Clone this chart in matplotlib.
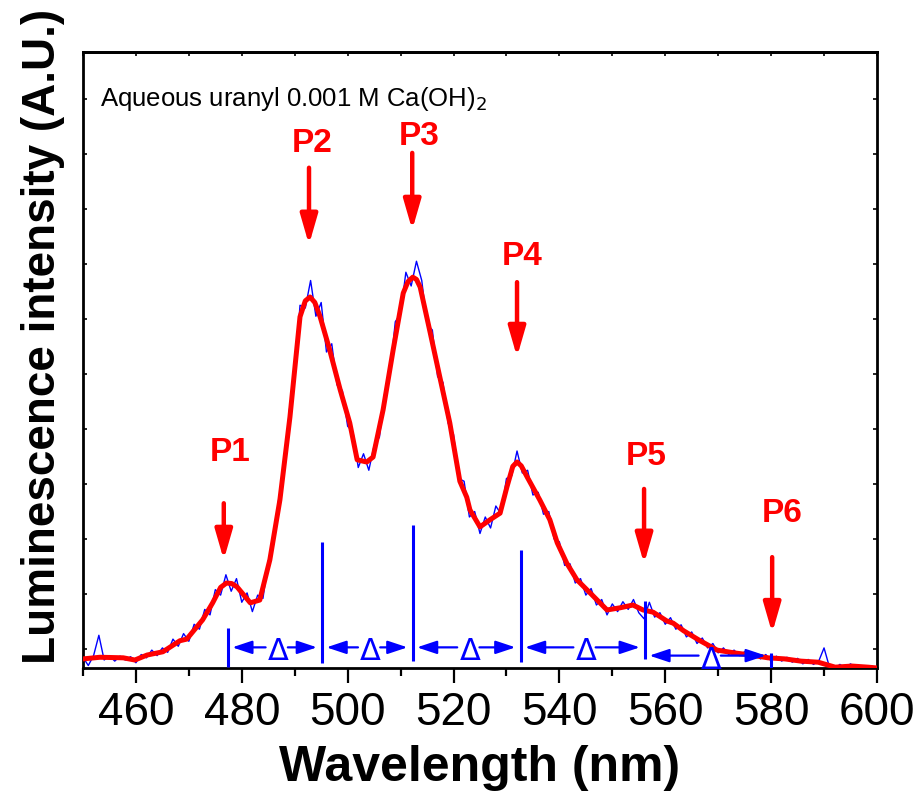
import numpy as np
import matplotlib
matplotlib.use('Agg')
import matplotlib.pyplot as plt

# ---- datos ----
# espectro crudo (azul), paso 1 nm
wl_raw = np.arange(450, 601, 1)
raw = [-0.15, -0.30, -0.12, 0.25, -0.20, -0.12, -0.22, -0.13, -0.20, -0.14,
       -0.25, -0.10, -0.16, -0.02, -0.12, 0.02, -0.06, 0.18, 0.05, 0.28,
       0.14, 0.45, 0.36, 0.72, 0.62, 1.08, 0.98, 1.35, 1.05, 1.28,
       0.85, 1.02, 0.68, 0.98, 0.92, 1.60, 1.90, 2.75, 3.20, 4.35,
       4.95, 6.25, 6.20, 6.70, 6.05, 6.30, 5.40, 5.55, 4.80, 4.70,
       4.05, 3.95, 3.30, 3.55, 3.25, 3.70, 3.85, 4.65, 5.00, 5.95,
       6.10, 6.85, 6.60, 7.05, 6.70, 5.90, 5.80, 4.95, 4.85, 4.10,
       3.90, 3.10, 3.05, 2.40, 2.50, 2.10, 2.40, 2.20, 2.60, 2.45,
       3.10, 3.15, 3.60, 3.20, 3.25, 2.80, 2.85, 2.45, 2.50, 2.00,
       1.95, 1.52, 1.55, 1.20, 1.28, 0.98, 1.10, 0.80, 0.90, 0.62,
       0.82, 0.68, 0.86, 0.72, 0.90, 0.66, 0.55, 0.85, 0.58, 0.66,
       0.45, 0.57, 0.36, 0.44, 0.22, 0.31, 0.10, 0.20, 0.02, 0.10,
       -0.07, 0.02, -0.10, -0.02, -0.12, -0.05, -0.16, -0.08, -0.18, -0.10,
       -0.22, -0.13, -0.22, -0.15, -0.24, -0.17, -0.27, -0.19, -0.28, -0.22,
       0.02, -0.32, -0.36, -0.28, -0.35, -0.27, -0.34, -0.30, -0.36, -0.31,
       -0.36]

# espectro suavizado (rojo)
wl_fit = [450.0, 453.2, 457.6, 459.8, 462.1, 465.1, 468.3, 469.6, 472.6, 474.5,
          476.0, 477.1, 478.1, 479.1, 481.6, 483.4, 485.3, 487.2, 489.1, 491.0,
          492.0, 492.9, 493.8, 494.8, 496.6, 498.6, 500.4, 501.8, 503.6, 504.8,
          506.7, 508.6, 510.5, 511.4, 512.3, 513.0, 513.7, 515.6, 517.4, 519.3,
          521.2, 522.5, 523.1, 525.0, 526.9, 528.8, 530.1, 531.2, 532.0, 532.8,
          533.9, 536.3, 538.2, 539.6, 541.4, 543.3, 545.8, 549.0, 551.5, 553.9,
          555.8, 557.7, 560.3, 561.5, 563.5, 566.6, 569.8, 573.0, 576.2, 579.4,
          582.6, 585.6, 588.9, 592.1, 595.3, 598.3, 600.0]
fit = [-0.18, -0.15, -0.16, -0.20, -0.11, -0.05, 0.15, 0.18, 0.53, 0.84,
       1.12, 1.20, 1.19, 1.13, 0.84, 0.89, 1.62, 2.71, 4.22, 6.04,
       6.33, 6.40, 6.30, 6.04, 5.44, 4.71, 4.11, 3.44, 3.40, 3.49,
       4.35, 5.44, 6.47, 6.68, 6.76, 6.72, 6.58, 5.75, 4.95, 4.11,
       3.05, 2.76, 2.53, 2.22, 2.35, 2.47, 2.95, 3.32, 3.40, 3.33,
       3.13, 2.71, 2.35, 1.93, 1.56, 1.26, 1.02, 0.71, 0.75, 0.80,
       0.71, 0.67, 0.51, 0.47, 0.33, 0.15, -0.02, -0.07, -0.11, -0.16,
       -0.18, -0.22, -0.24, -0.33, -0.31, -0.33, -0.345]

# lineas verticales (azul)
stick_wl = [477.4, 495.2, 512.3, 532.7, 556.2, 580.0]
stick_top = [0.38, 1.95, 2.25, 1.80, 0.87, -0.07]
stick_bot = [-0.33, -0.25, -0.22, -0.24, -0.18, -0.36]
delta_y = [-0.05, -0.05, -0.05, -0.05, -0.20]

# picos P1..P6
peak_names = ['P1', 'P2', 'P3', 'P4', 'P5', 'P6']
peak_wl = [476.6, 492.7, 512.2, 532.0, 556.0, 580.2]
arrow_tail = [2.65, 8.75, 9.02, 6.67, 2.91, 1.67]
arrow_tip = [1.62, 7.35, 7.62, 5.31, 1.55, 0.29]
label_wl = [477.8, 493.3, 513.5, 532.9, 556.4, 582.1]
label_y = [3.42, 9.04, 9.16, 6.98, 3.35, 2.31]

RED = '#ff0000'
BLUE = '#0000ff'
SANS = ['Liberation Sans', 'DejaVu Sans']

fig = plt.figure(figsize=(9.18, 8.02), dpi=100)
ax = fig.add_axes([0.0904, 0.1671, 0.8649, 0.7681])

ax.plot(wl_raw, raw, color=BLUE, lw=1.0, zorder=2)
ax.plot(wl_fit, fit, color=RED, lw=3.6, zorder=3)
ax.vlines(stick_wl, stick_bot, stick_top, color=BLUE, lw=2.2, zorder=4)

# flechas y Delta entre lineas
for i in range(len(stick_wl) - 1):
    a, b = stick_wl[i], stick_wl[i + 1]
    mid = (a + b) / 2 + 0.6
    yy = delta_y[i]
    ax.text(mid, yy, '\u0394', color=BLUE, fontsize=22, ha='center', va='center',
            family='DejaVu Sans', zorder=5)
    for tail, head in [(mid - 2.4, a + 0.8), (mid + 1.8, b - 1.0)]:
        ax.annotate('', xy=(head, yy + 0.08), xytext=(tail, yy + 0.08),
                    arrowprops=dict(arrowstyle='-|>,head_length=1.2,head_width=0.4',
                                    color=BLUE, lw=1.6, mutation_scale=10,
                                    shrinkA=0, shrinkB=0), zorder=5)

# flechas rojas de los picos
for i in range(len(peak_names)):
    ax.annotate('', xy=(peak_wl[i], arrow_tip[i]), xytext=(peak_wl[i], arrow_tail[i]),
                arrowprops=dict(arrowstyle='-|>,head_length=0.9,head_width=0.26',
                                color=RED, lw=3.2, mutation_scale=20,
                                shrinkA=0, shrinkB=0), zorder=6)
    ax.text(label_wl[i], label_y[i], peak_names[i], color=RED, fontsize=24,
            fontweight='bold', ha='center', va='baseline', family=SANS, zorder=6)

ax.text(0.021, 0.912, 'Aqueous uranyl 0.001 M Ca(OH)$_2$', transform=ax.transAxes,
        fontsize=18.5, ha='left', va='baseline', family=SANS)

ax.set_xlim(450, 600)
ax.set_ylim(-0.345, 10.855)

ax.set_xticks(np.arange(460, 601, 20))
ax.set_xticks(np.arange(450, 601, 20), minor=True)
ax.set_yticks(np.arange(0, 11, 1))
ax.set_yticklabels([])
ax.tick_params(axis='x', which='major', direction='out', length=10.5, width=1.6,
               pad=6, labelsize=33)
ax.tick_params(axis='x', which='minor', direction='out', length=5.5, width=1.6)
ax.tick_params(axis='y', which='major', left=True, right=True, direction='in',
               length=3, width=1.2)
for lab in ax.get_xticklabels():
    lab.set_family(SANS)

top = ax.secondary_xaxis('top')
top.set_xticks(np.arange(450, 601, 10))
top.tick_params(direction='in', length=3, width=1.2, labeltop=False)
top.spines['top'].set_linewidth(2.0)

for s in ax.spines.values():
    s.set_linewidth(2.0)

ax.set_xlabel('Wavelength (nm)', fontsize=36, fontweight='bold', family=SANS)
ax.xaxis.set_label_coords(0.5, -0.125)
ax.set_ylabel('Luminescence intensity (A.U.)', fontsize=33, fontweight='bold', family=SANS)
ax.yaxis.set_label_coords(-0.023, 0.539)

fig.savefig('out.png', dpi=100)
